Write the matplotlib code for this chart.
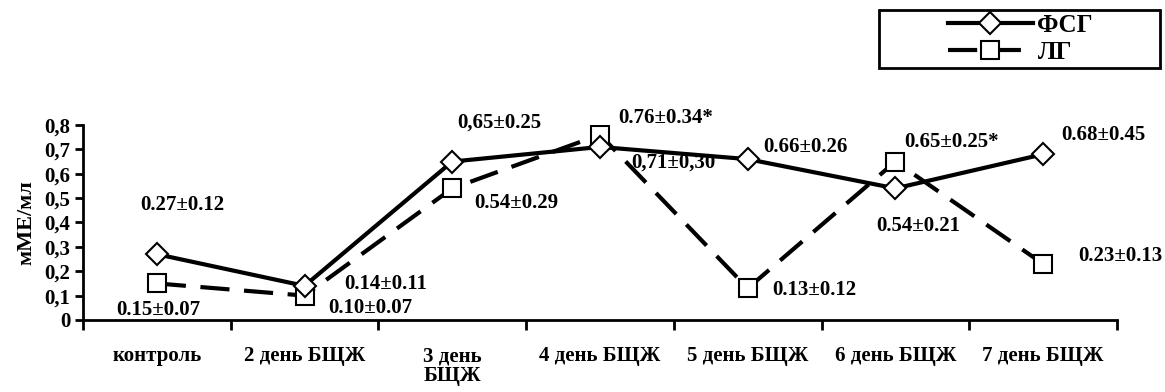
import numpy as np
import matplotlib.pyplot as plt
from matplotlib.patches import Rectangle

categories = ["контроль", "2 день БЩЖ", "3 день\nБЩЖ", "4 день БЩЖ",
              "5 день БЩЖ", "6 день БЩЖ", "7 день БЩЖ"]
fsh = [0.27, 0.14, 0.65, 0.71, 0.66, 0.54, 0.68]
lh = [0.15, 0.10, 0.54, 0.76, 0.13, 0.65, 0.23]
fsh_labels = ["0.27±0.12", "0.14±0.11", "0,65±0.25", "0,71±0,30",
              "0.66±0.26", "0.54±0.21", "0.68±0.45"]
lh_labels = ["0.15±0.07", "0.10±0.07", "0.54±0.29", "0.76±0.34*",
             "0.13±0.12", "0.65±0.25*", "0.23±0.13"]
yticks = [0, 0.1, 0.2, 0.3, 0.4, 0.5, 0.6, 0.7, 0.8]
ytick_labels = ["0", "0,1", "0,2", "0,3", "0,4", "0,5", "0,6", "0,7", "0,8"]

# label offsets in pixels (dx right, dy up)
fsh_off = [(26, 49), (81, 2), (47, 39), (73, -16), (58, 12), (23, -38), (60, 19)]
lh_off = [(2, -27), (66, -12), (64, -15), (66, 17), (67, -2), (56, 20), (77, 8)]

plt.rcParams['font.family'] = ['Liberation Serif', 'DejaVu Serif']
plt.rcParams['font.weight'] = 'bold'
fs = 15

fig = plt.figure(figsize=(11.65, 3.92), dpi=100)
ax = fig.add_axes([0.0712, 0.1837, 0.8876, 0.4974])

x = np.arange(len(categories)) + 0.5
l1, = ax.plot(x, fsh, color="black", lw=3, marker="D", ms=11, mfc="white",
              mec="black", mew=1.5, zorder=3)
l2, = ax.plot(x, lh, color="black", lw=3, ls=(0, (7, 3.5)), marker="s", ms=13,
              mfc="white", mec="black", mew=1.5, zorder=2)

for xi, v, t, (dx, dy) in zip(x, fsh, fsh_labels, fsh_off):
    ax.annotate(t, (xi, v), xytext=(dx, dy), textcoords="offset pixels",
                ha="center", va="center", fontsize=fs, fontweight="bold")
for xi, v, t, (dx, dy) in zip(x, lh, lh_labels, lh_off):
    ax.annotate(t, (xi, v), xytext=(dx, dy), textcoords="offset pixels",
                ha="center", va="center", fontsize=fs, fontweight="bold")

ax.set_xlim(0, len(categories))
ax.set_ylim(0, 0.8)
ax.set_yticks(yticks)
ax.set_yticklabels(ytick_labels, fontsize=fs, fontweight="bold")
ax.set_xticks(np.arange(len(categories) + 1))
ax.set_xticklabels([])
ax.set_xticks(x, minor=True)
ax.set_xticklabels(categories, minor=True, fontsize=fs, fontweight="bold",
                   linespacing=1.0)
ax.tick_params(axis="x", which="major", direction="out", length=7, width=2)
ax.tick_params(axis="x", which="minor", length=0, pad=19)
ax.tick_params(axis="y", direction="out", length=6, width=2, pad=3)
for s in ["top", "right"]:
    ax.spines[s].set_visible(False)
for s in ["left", "bottom"]:
    ax.spines[s].set_linewidth(2)
ax.set_ylabel("мМЕ/мл", fontsize=16, fontweight="bold", labelpad=6)

fig.patches.append(Rectangle((879 / 1165, 1 - 68 / 392), 281 / 1165, 58 / 392,
                             transform=fig.transFigure, fill=False,
                             edgecolor="black", lw=2))
fig.legend([l1, l2], ["ФСГ", "ЛГ"], loc="center left",
           bbox_to_anchor=(935 / 1165, 1 - 39 / 392), frameon=False,
           fontsize=18, handlelength=3.4, labelspacing=0.15, handletextpad=0.2,
           borderpad=0)

fig.savefig("out.png", dpi=100)
